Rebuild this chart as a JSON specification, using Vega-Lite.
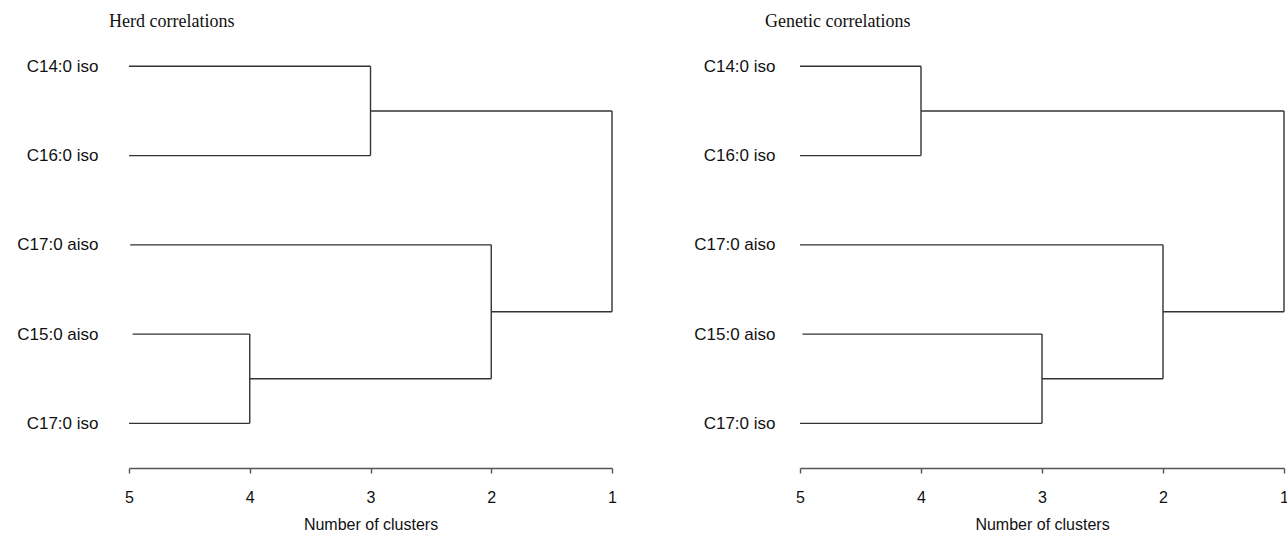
{
  "$schema": "https://vega.github.io/schema/vega-lite/v6.json",
  "padding": {"left": 16, "top": 13, "right": 0, "bottom": 0},
  "bounds": "flush",
  "spacing": 188,
  "background": "white",
  "config": {
    "view": {"stroke": null},
    "axis": {"labelFont": "Liberation Sans", "titleFont": "Liberation Sans", "labelColor": "#111", "titleColor": "#111", "grid": false},
    "title": {"font": "Liberation Serif", "fontSize": 18, "fontWeight": "normal", "color": "#111", "anchor": "start", "frame": "group"}
  },
  "datasets": {
    "herd": [
      {"x": 5, "x2": 3, "y": 1, "y2": 1},
      {"x": 5, "x2": 3, "y": 2, "y2": 2},
      {"x": 3, "x2": 3, "y": 1, "y2": 2},
      {"x": 3, "x2": 1, "y": 1.5, "y2": 1.5},
      {"x": 4.99, "x2": 2, "y": 3, "y2": 3},
      {"x": 4.97, "x2": 4, "y": 4, "y2": 4},
      {"x": 5, "x2": 4, "y": 5, "y2": 5},
      {"x": 4, "x2": 4, "y": 4, "y2": 5},
      {"x": 4, "x2": 2, "y": 4.5, "y2": 4.5},
      {"x": 2, "x2": 2, "y": 3, "y2": 4.5},
      {"x": 2, "x2": 1, "y": 3.75, "y2": 3.75},
      {"x": 1, "x2": 1, "y": 1.5, "y2": 3.75}
    ],
    "genetic": [
      {"x": 5, "x2": 4, "y": 1, "y2": 1},
      {"x": 5, "x2": 4, "y": 2, "y2": 2},
      {"x": 4, "x2": 4, "y": 1, "y2": 2},
      {"x": 4, "x2": 1, "y": 1.5, "y2": 1.5},
      {"x": 5, "x2": 2, "y": 3, "y2": 3},
      {"x": 4.98, "x2": 3, "y": 4, "y2": 4},
      {"x": 5, "x2": 3, "y": 5, "y2": 5},
      {"x": 3, "x2": 3, "y": 4, "y2": 5},
      {"x": 3, "x2": 2, "y": 4.5, "y2": 4.5},
      {"x": 2, "x2": 2, "y": 3, "y2": 4.5},
      {"x": 2, "x2": 1, "y": 3.75, "y2": 3.75},
      {"x": 1, "x2": 1, "y": 1.5, "y2": 3.75}
    ]
  },
  "hconcat": [
    {
      "width": 483,
      "height": 424,
      "title": {"text": "Herd correlations", "dx": -20, "offset": 13},
      "data": {"name": "herd"},
      "mark": {"type": "rule", "color": "#333", "strokeWidth": 1.4},
      "encoding": {
        "x": {"field": "x", "type": "quantitative", "scale": {"domain": [5, 1]},
          "axis": {"title": "Number of clusters", "values": [5, 4.5, 4, 3.5, 3, 2.5, 2, 1.5, 1], "format": "d", "labelExpr": "datum.value % 1 == 0 ? datum.label : ''", "labelFontSize": 16, "titleFontSize": 16, "titleFontWeight": "normal", "domainColor": "#555", "domainWidth": 1.6, "tickColor": "#555", "tickWidth": 1.4, "tickSize": 5, "labelPadding": 16, "titlePadding": 11, "labelFlush": false}},
        "x2": {"field": "x2"},
        "y": {"field": "y", "type": "quantitative", "scale": {"domain": [0.75, 5.5], "reverse": true},
          "axis": {"title": null, "values": [1, 2, 3, 4, 5], "labelExpr": "['', 'C14:0 iso', 'C16:0 iso', 'C17:0 aiso', 'C15:0 aiso', 'C17:0 iso'][datum.value]", "domain": false, "ticks": false, "tickSize": 0, "labelFontSize": 17, "labelPadding": 31}},
        "y2": {"field": "y2"}
      }
    },
    {
      "width": 484,
      "height": 424,
      "title": {"text": "Genetic correlations", "dx": -35, "offset": 13},
      "data": {"name": "genetic"},
      "mark": {"type": "rule", "color": "#333", "strokeWidth": 1.4},
      "encoding": {
        "x": {"field": "x", "type": "quantitative", "scale": {"domain": [5, 1]},
          "axis": {"title": "Number of clusters", "values": [5, 4.5, 4, 3.5, 3, 2.5, 2, 1.5, 1], "format": "d", "labelExpr": "datum.value % 1 == 0 ? datum.label : ''", "labelFontSize": 16, "titleFontSize": 16, "titleFontWeight": "normal", "domainColor": "#555", "domainWidth": 1.6, "tickColor": "#555", "tickWidth": 1.4, "tickSize": 5, "labelPadding": 16, "titlePadding": 11, "labelFlush": false}},
        "x2": {"field": "x2"},
        "y": {"field": "y", "type": "quantitative", "scale": {"domain": [0.75, 5.5], "reverse": true},
          "axis": {"title": null, "values": [1, 2, 3, 4, 5], "labelExpr": "['', 'C14:0 iso', 'C16:0 iso', 'C17:0 aiso', 'C15:0 aiso', 'C17:0 iso'][datum.value]", "domain": false, "ticks": false, "tickSize": 0, "labelFontSize": 17, "labelPadding": 25}},
        "y2": {"field": "y2"}
      }
    }
  ]
}
